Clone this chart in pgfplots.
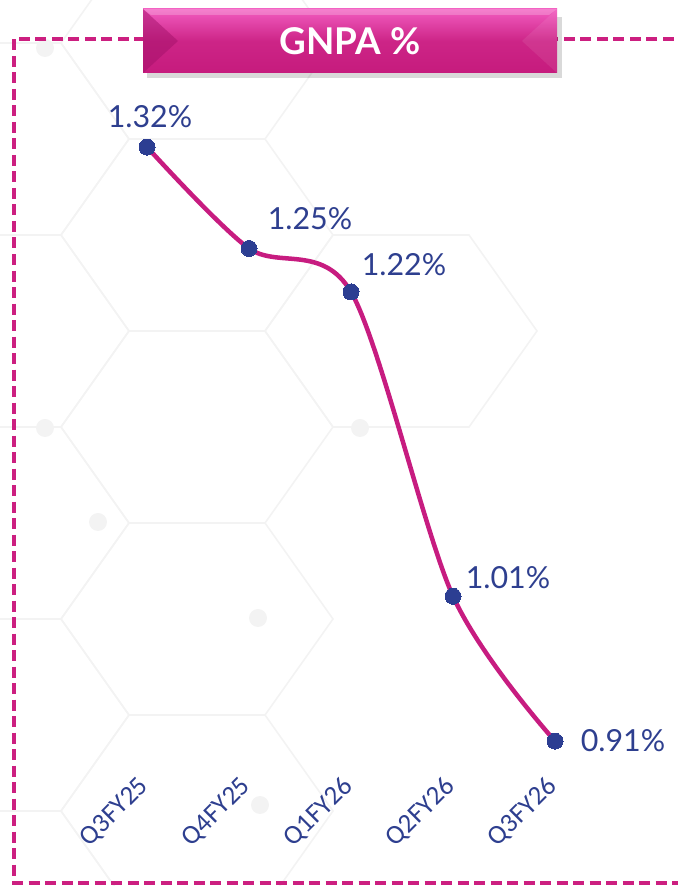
\documentclass[border=0pt]{standalone}
\usepackage{pgfplots}
\pgfplotsset{compat=1.18}
\usepackage{fontspec}
\setmainfont{Lato}
\newfontfamily\carlito{Carlito}
\definecolor{lblue}{HTML}{2E3F8F}
\definecolor{mblue}{HTML}{2C3E92}
\definecolor{mag}{HTML}{C71C80}
\definecolor{magdash}{HTML}{CC1F80}
\definecolor{hexg}{HTML}{F3F3F3}
\definecolor{ttop}{HTML}{F25CC0}
\definecolor{tmid}{HTML}{C61B7D}
\definecolor{tdark}{HTML}{A3116A}
\begin{document}
\begin{tikzpicture}[x=1bp,y=1bp]
\useasboundingbox (0,0) rectangle (678,886);
% faint hexagon background
\newcommand\hexa[2]{\draw[hexg, line width=1.6bp] ({#1-136},{886-#2}) -- ({#1-68},{886-#2+96}) -- ({#1+68},{886-#2+96}) -- ({#1+136},{886-#2}) -- ({#1+68},{886-#2-96}) -- ({#1-68},{886-#2-96}) -- cycle;}
\begin{scope}
\clip (0,0) rectangle (678,886);
\foreach \c in {139,331,523,715,907} {\hexa{-7}{\c}}
\foreach \c in {43,235,427,619,811} {\hexa{197}{\c}}
\hexa{401}{331}
\foreach \p/\q in {45/48, 45/428, 98/522, 258/618, 260/805, 360/428}
  {\fill[hexg] (\p,{886-\q}) circle (9bp);}
\end{scope}
% dashed border
\draw[magdash, line width=3.5bp, dash pattern=on 11bp off 5.5bp] (690,847) -- (14,847) -- (14,3) -- (690,3);
% title box
\fill[black, opacity=0.15] (147,808) rectangle (562,869);
\shade[top color=ttop, bottom color=tmid, middle color=tmid!85!ttop] (143,813) rectangle (557,877);
\fill[tdark, opacity=0.5] (143,813) -- (143,877) -- (178,845) -- cycle;
\fill[white, opacity=0.08] (557,813) -- (557,877) -- (522,845) -- cycle;
\fill[white, opacity=0.22] (143,877) -- (557,877) -- (549,871) -- (151,871) -- cycle;
\node[text=white, font=\fontsize{37}{42}\selectfont\bfseries] at (350,845) {GNPA \%};
\begin{axis}[
  at={(0,0)}, anchor=south west,
  scale only axis, width=678bp, height=886bp,
  xmin=-1.4412, xmax=5.2059, ymin=0.80999, ymax=1.42145,
  axis line style={draw=none}, clip=false,
  ytick=\empty,
  xtick={0,1,2,3,4},
  xticklabels={Q3FY25,Q4FY25,Q1FY26,Q2FY26,Q3FY26},
  major tick length=0pt,
  xticklabel shift=-106bp,
  xticklabel style={rotate=45, anchor=east, text=lblue, font=\carlito\fontsize{27}{30}\selectfont},
]
\addplot[mag, line width=4.5bp, smooth, tension=0.5, mark=*, mark size=8bp,
  mark options={fill=mblue, draw=mblue, line width=0pt}]
  coordinates {(0,1.32) (1,1.25) (2,1.22) (3,1.01) (4,0.91)};
\draw[gray!70, line width=1.2bp] (axis cs:4,0.91) ++(9bp,0) -- ++(12bp,0);
\begin{scope}[every node/.style={text=lblue, font=\fontsize{30.5}{34}\selectfont}]
\node[xshift=3bp, yshift=30bp] at (axis cs:0,1.32) {1.32\%};
\node[xshift=61bp, yshift=30bp] at (axis cs:1,1.25) {1.25\%};
\node[xshift=53bp, yshift=27bp] at (axis cs:2,1.22) {1.22\%};
\node[xshift=55bp, yshift=19bp] at (axis cs:3,1.01) {1.01\%};
\node[xshift=68bp, yshift=0bp] at (axis cs:4,0.91) {0.91\%};
\end{scope}
\end{axis}
\end{tikzpicture}
\end{document}
